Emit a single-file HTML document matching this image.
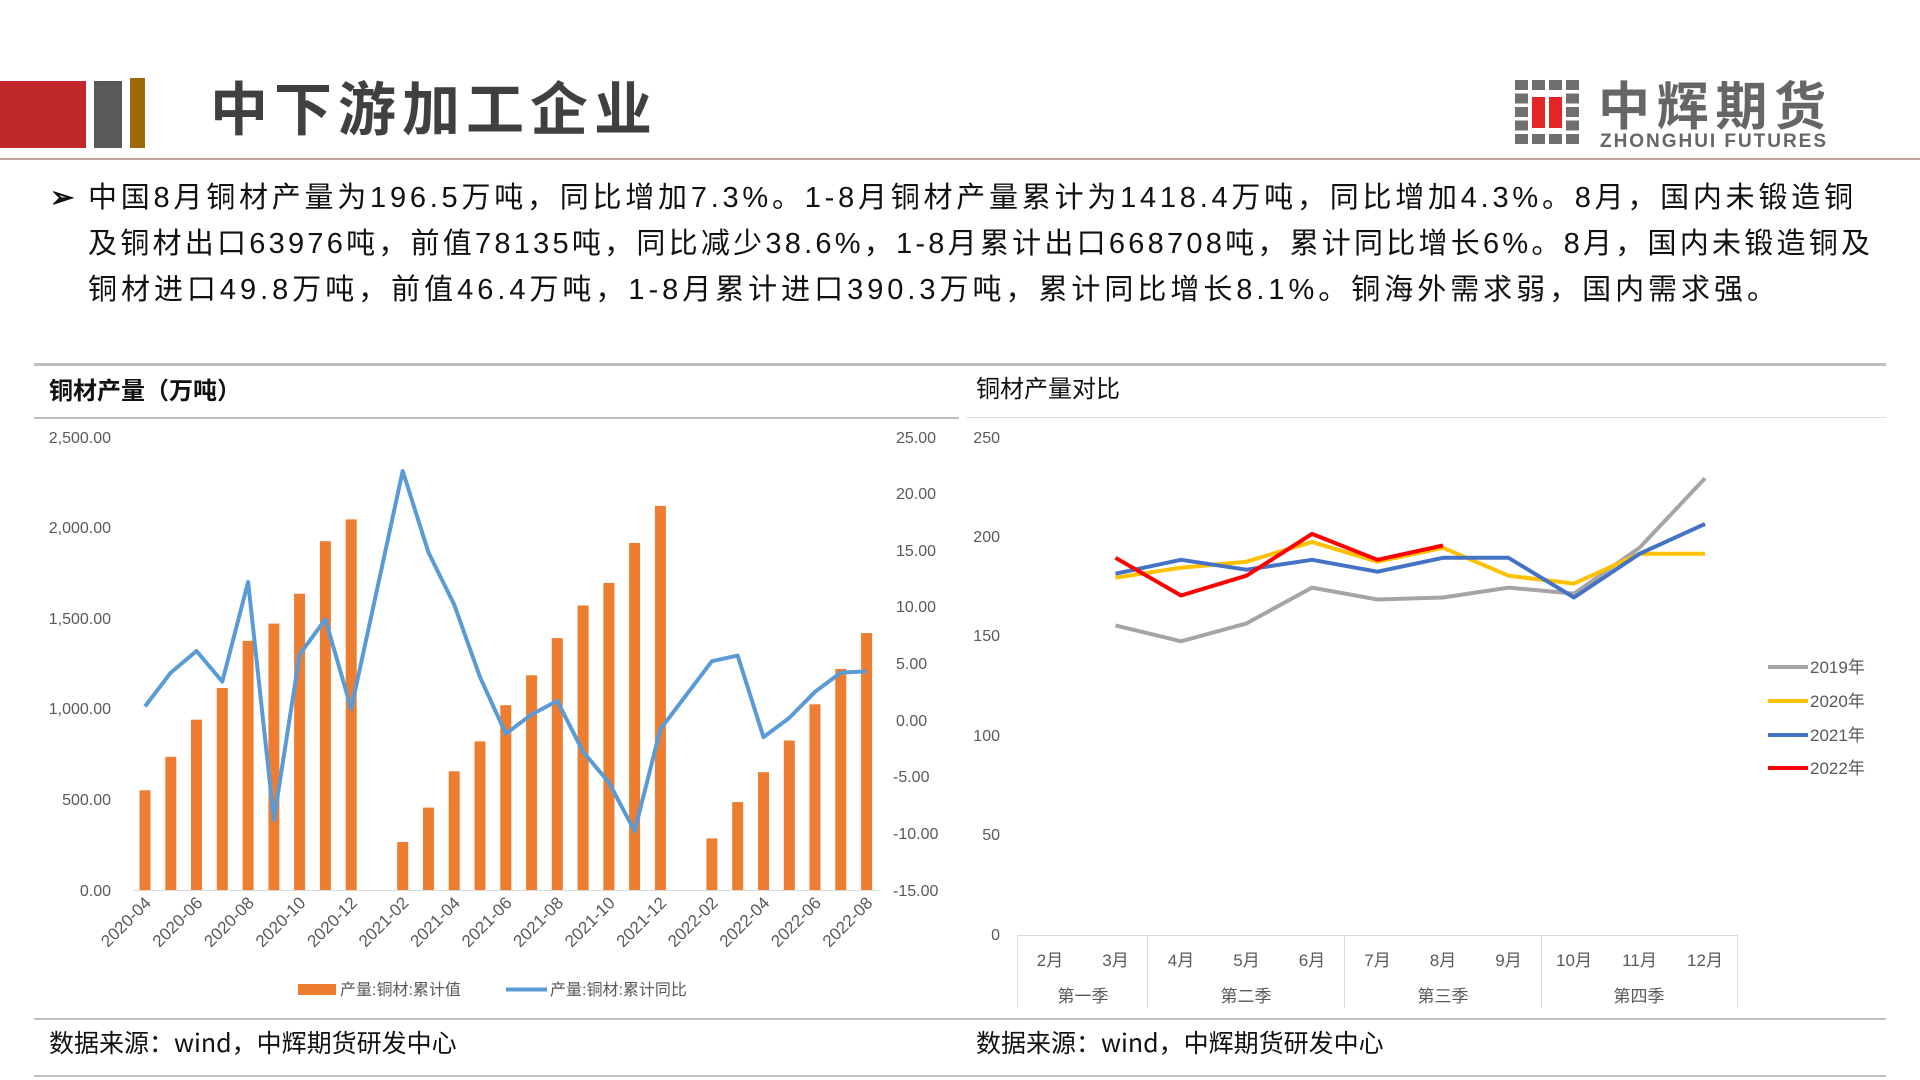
<!DOCTYPE html>
<html><head><meta charset="utf-8"><style>
body{margin:0;background:#fff}
svg{display:block}
text{font-family:"Liberation Sans","Noto Sans CJK SC",sans-serif}
.cj{font-family:"Noto Sans CJK SC","WenQuanYi Zen Hei",sans-serif}
</style></head><body>
<svg width="1920" height="1080" viewBox="0 0 1920 1080" xmlns="http://www.w3.org/2000/svg">
<rect width="1920" height="1080" fill="#fff"/>
<rect x="0" y="81" width="86" height="67" fill="#C0282C"/>
<rect x="94" y="81" width="28" height="67" fill="#595959"/>
<rect x="130" y="78" width="15" height="70" fill="#9C6A0A"/>
<text x="210" y="130" class="cj" font-size="58" font-weight="bold" fill="#404040" letter-spacing="6">中下游加工企业</text>
<rect x="0" y="158" width="1920" height="2" fill="#C9A0A0"/>
<g fill="#707070">
<rect x="1515" y="80" width="13" height="10"/><rect x="1532" y="80" width="13" height="10"/><rect x="1549" y="80" width="13" height="10"/><rect x="1566" y="80" width="13" height="10"/>
<rect x="1515" y="93.5" width="13" height="10"/><rect x="1566" y="93.5" width="13" height="10"/>
<rect x="1515" y="107" width="13" height="10"/><rect x="1566" y="107" width="13" height="10"/>
<rect x="1515" y="120.5" width="13" height="10"/><rect x="1566" y="120.5" width="13" height="10"/>
<rect x="1515" y="134" width="13" height="10"/><rect x="1532" y="134" width="13" height="10"/><rect x="1549" y="134" width="13" height="10"/><rect x="1566" y="134" width="13" height="10"/>
</g>
<rect x="1532" y="97" width="13" height="31" fill="#E32526"/><rect x="1549" y="97" width="13" height="31" fill="#E32526"/>
<text x="1598" y="125" class="cj" font-size="52" font-weight="bold" fill="#666" textLength="228">中辉期货</text>
<text x="1600" y="147" font-size="19" font-weight="bold" fill="#666" textLength="226">ZHONGHUI FUTURES</text>
<g class="cj" font-size="29" fill="#111">
<text x="50" y="207" font-weight="bold">➢</text>
<text x="88" y="207" textLength="1765">中国8月铜材产量为196.5万吨，同比增加7.3%。1-8月铜材产量累计为1418.4万吨，同比增加4.3%。8月，国内未锻造铜</text>
<text x="88" y="253" textLength="1782">及铜材出口63976吨，前值78135吨，同比减少38.6%，1-8月累计出口668708吨，累计同比增长6%。8月，国内未锻造铜及</text>
<text x="88" y="299" textLength="1688">铜材进口49.8万吨，前值46.4万吨，1-8月累计进口390.3万吨，累计同比增长8.1%。铜海外需求弱，国内需求强。</text>
</g>
<rect x="34" y="363" width="1852" height="3" fill="#BFBFBF"/>
<rect x="34" y="417" width="925" height="2" fill="#BFBFBF"/>
<rect x="967" y="417" width="919" height="1" fill="#D9D9D9"/>
<rect x="34" y="1018" width="1852" height="2" fill="#BFBFBF"/>
<rect x="34" y="1075" width="1852" height="2" fill="#BFBFBF"/>
<text x="49" y="399" class="cj" font-size="24" font-weight="bold" fill="#111">铜材产量（万吨）</text>
<text x="976" y="397" class="cj" font-size="24" fill="#111">铜材产量对比</text>
<text x="49" y="1052" class="cj" font-size="25" fill="#111">数据来源：wind，中辉期货研发中心</text>
<text x="976" y="1052" class="cj" font-size="25" fill="#111">数据来源：wind，中辉期货研发中心</text>
<g font-size="16" fill="#595959" text-anchor="end">
<text x="111" y="443">2,500.00</text><text x="111" y="533">2,000.00</text><text x="111" y="624">1,500.00</text><text x="111" y="714">1,000.00</text><text x="111" y="805">500.00</text><text x="111" y="896">0.00</text>
</g>
<g font-size="16" fill="#595959">
<text x="896" y="443">25.00</text><text x="896" y="499">20.00</text><text x="896" y="556">15.00</text><text x="896" y="612">10.00</text><text x="896" y="669">5.00</text><text x="896" y="726">0.00</text><text x="893" y="782">-5.00</text><text x="893" y="839">-10.00</text><text x="893" y="896">-15.00</text>
</g>
<line x1="133" y1="890.5" x2="879" y2="890.5" stroke="#D9D9D9" stroke-width="1"/>
<g fill="#ED7D31">
<rect x="139.5" y="790.3" width="11" height="99.7"/>
<rect x="165.3" y="756.8" width="11" height="133.2"/>
<rect x="191" y="719.7" width="11" height="170.3"/>
<rect x="216.8" y="688" width="11" height="202"/>
<rect x="242.6" y="640.8" width="11" height="249.2"/>
<rect x="268.4" y="623.6" width="11" height="266.4"/>
<rect x="294.1" y="593.7" width="11" height="296.3"/>
<rect x="319.9" y="541.2" width="11" height="348.8"/>
<rect x="345.7" y="519.4" width="11" height="370.6"/>
<rect x="397.2" y="842" width="11" height="48"/>
<rect x="423" y="807.6" width="11" height="82.4"/>
<rect x="448.7" y="771.3" width="11" height="118.7"/>
<rect x="474.5" y="741.4" width="11" height="148.6"/>
<rect x="500.3" y="705.2" width="11" height="184.8"/>
<rect x="526.1" y="675.3" width="11" height="214.7"/>
<rect x="551.8" y="638.1" width="11" height="251.9"/>
<rect x="577.6" y="605.5" width="11" height="284.5"/>
<rect x="603.4" y="582.9" width="11" height="307.1"/>
<rect x="629.1" y="543" width="11" height="347"/>
<rect x="654.9" y="505.9" width="11" height="384.1"/>
<rect x="706.4" y="838.4" width="11" height="51.6"/>
<rect x="732.2" y="802.1" width="11" height="87.9"/>
<rect x="758" y="772.2" width="11" height="117.8"/>
<rect x="783.8" y="740.5" width="11" height="149.5"/>
<rect x="809.5" y="704.3" width="11" height="185.7"/>
<rect x="835.3" y="668.9" width="11" height="221.1"/>
<rect x="861.1" y="633.1" width="11" height="256.9"/>
</g>
<polyline fill="none" stroke="#5B9BD5" stroke-width="4" stroke-linejoin="round" points="145,706.5 170.8,672.6 196.5,651 222.3,681.6 248.1,582 273.9,819.8 299.6,654.4 325.4,619.3 351.2,708.8 402.7,471 428.5,552.5 454.2,604.6 480,677.1 505.8,733.7 531.6,714.5 557.3,700.9 583.1,751.8 608.9,782.4 634.6,831.1 660.4,729.2 711.9,661.2 737.7,655.6 763.5,737.1 789.3,717.9 815,691.8 840.8,672.6 866.6,671.4"/>
<g font-size="17" fill="#595959" text-anchor="end">
<text transform="translate(152,904) rotate(-45)">2020-04</text>
<text transform="translate(203.5,904) rotate(-45)">2020-06</text>
<text transform="translate(255.1,904) rotate(-45)">2020-08</text>
<text transform="translate(306.6,904) rotate(-45)">2020-10</text>
<text transform="translate(358.2,904) rotate(-45)">2020-12</text>
<text transform="translate(409.7,904) rotate(-45)">2021-02</text>
<text transform="translate(461.2,904) rotate(-45)">2021-04</text>
<text transform="translate(512.8,904) rotate(-45)">2021-06</text>
<text transform="translate(564.3,904) rotate(-45)">2021-08</text>
<text transform="translate(615.9,904) rotate(-45)">2021-10</text>
<text transform="translate(667.4,904) rotate(-45)">2021-12</text>
<text transform="translate(718.9,904) rotate(-45)">2022-02</text>
<text transform="translate(770.5,904) rotate(-45)">2022-04</text>
<text transform="translate(822,904) rotate(-45)">2022-06</text>
<text transform="translate(873.6,904) rotate(-45)">2022-08</text>
</g>
<rect x="298" y="984" width="38" height="11" fill="#ED7D31"/>
<text x="340" y="995" font-size="16" fill="#595959">产量:铜材:累计值</text>
<line x1="506" y1="989.5" x2="547" y2="989.5" stroke="#5B9BD5" stroke-width="4"/>
<text x="550" y="995" font-size="16" fill="#595959">产量:铜材:累计同比</text>
<g font-size="16" fill="#595959" text-anchor="end">
<text x="1000" y="443">250</text><text x="1000" y="542">200</text><text x="1000" y="641">150</text><text x="1000" y="741">100</text><text x="1000" y="840">50</text><text x="1000" y="940">0</text>
</g>
<line x1="1017" y1="935.5" x2="1738" y2="935.5" stroke="#D9D9D9"/>
<g stroke="#D9D9D9"><line x1="1017.5" y1="935" x2="1017.5" y2="1008"/><line x1="1147.5" y1="935" x2="1147.5" y2="1008"/><line x1="1344.5" y1="935" x2="1344.5" y2="1008"/><line x1="1541.5" y1="935" x2="1541.5" y2="1008"/><line x1="1737.5" y1="935" x2="1737.5" y2="1008"/></g>
<g font-size="17" fill="#595959" text-anchor="middle">
<text x="1050" y="966">2月</text><text x="1115.5" y="966">3月</text><text x="1181" y="966">4月</text><text x="1246.5" y="966">5月</text><text x="1312" y="966">6月</text><text x="1377.5" y="966">7月</text><text x="1443" y="966">8月</text><text x="1508.5" y="966">9月</text><text x="1574" y="966">10月</text><text x="1639.5" y="966">11月</text><text x="1705" y="966">12月</text>
<text x="1083" y="1002">第一季</text><text x="1246" y="1002">第二季</text><text x="1443" y="1002">第三季</text><text x="1639" y="1002">第四季</text>
</g>
<g fill="none" stroke-width="4" stroke-linejoin="round">
<polyline stroke="#A5A5A5" points="1115.5,625.4 1181,641.3 1246.5,623.4 1312,587.6 1377.5,599.5 1443,597.5 1508.5,587.6 1574,593.6 1639.5,547.8 1705,478.3"/>
<polyline stroke="#FFC000" points="1115.5,577.7 1181,567.7 1246.5,561.7 1312,541.9 1377.5,561.7 1443,547.8 1508.5,575.7 1574,583.6 1639.5,553.8 1705,553.8"/>
<polyline stroke="#4472C4" points="1115.5,573.7 1181,559.8 1246.5,569.7 1312,559.8 1377.5,571.7 1443,557.8 1508.5,557.8 1574,597.5 1639.5,553.8 1705,523.9"/>
<polyline stroke="#FF0000" points="1115.5,557.8 1181,595.5 1246.5,575.7 1312,533.9 1377.5,559.8 1443,545.5"/>
</g>
<g stroke-width="4"><line x1="1768" y1="667" x2="1808" y2="667" stroke="#A5A5A5"/><line x1="1768" y1="701" x2="1808" y2="701" stroke="#FFC000"/><line x1="1768" y1="735" x2="1808" y2="735" stroke="#4472C4"/><line x1="1768" y1="768" x2="1808" y2="768" stroke="#FF0000"/></g>
<g font-size="17" fill="#595959"><text x="1810" y="673">2019年</text><text x="1810" y="707">2020年</text><text x="1810" y="741">2021年</text><text x="1810" y="774">2022年</text></g>
</svg>
</body></html>
